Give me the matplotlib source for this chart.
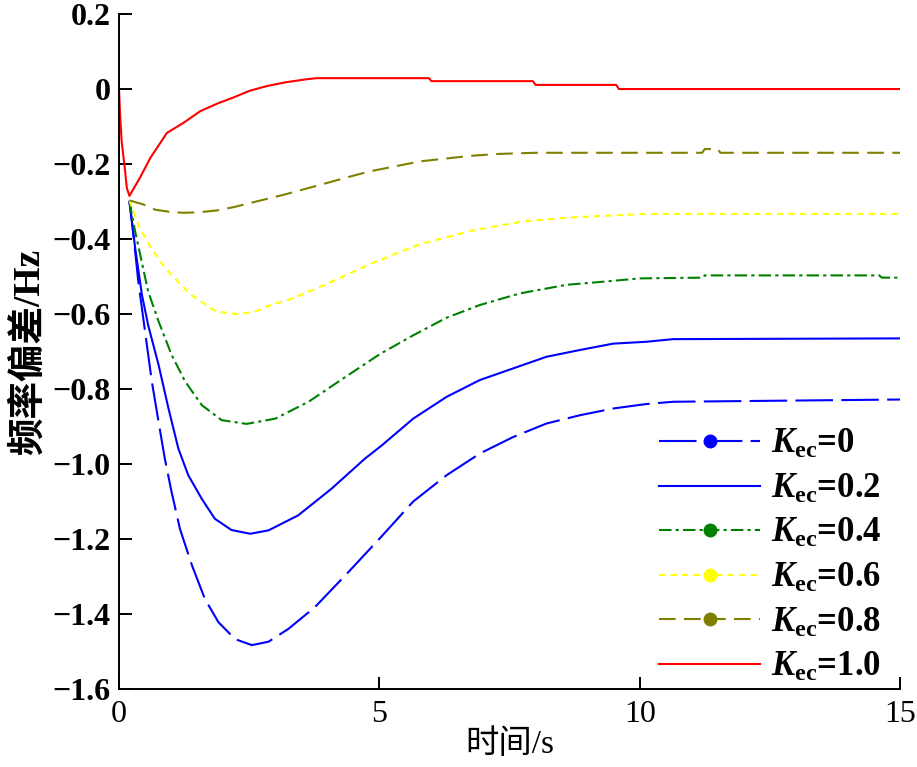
import matplotlib
matplotlib.use('Agg')
import matplotlib.pyplot as plt
from matplotlib.lines import Line2D

plt.rcParams['font.family'] = ['Liberation Serif', 'Noto Sans CJK SC']
plt.rcParams['mathtext.fontset'] = 'custom'
plt.rcParams['mathtext.rm'] = 'Liberation Serif:bold'
plt.rcParams['mathtext.it'] = 'Liberation Serif:italic:bold'
plt.rcParams['axes.unicode_minus'] = True

# Kec = 0
t0 = [0.2, 0.27, 0.37, 0.5, 0.63, 0.76, 0.88, 1.01, 1.17, 1.40, 1.65, 1.91, 2.23, 2.55, 2.87,
      3.25, 3.76, 4.4, 5.03, 5.65, 6.29, 6.93, 7.57, 8.21, 8.85, 9.49, 10.13, 10.64, 15]
y0 = [-0.3, -0.38, -0.513, -0.647, -0.78, -0.888, -0.986, -1.075, -1.173, -1.27, -1.36, -1.422,
      -1.467, -1.483, -1.474, -1.44, -1.382, -1.289, -1.195, -1.1, -1.03, -0.972, -0.928, -0.892,
      -0.87, -0.852, -0.84, -0.834, -0.828]
# Kec = 0.2
t2 = [0.2, 0.31, 0.44, 0.56, 0.76, 0.95, 1.14, 1.33, 1.59, 1.84, 2.16, 2.52, 2.87, 3.44, 4.08,
      4.72, 5.05, 5.65, 6.29, 6.93, 7.57, 8.21, 8.85, 9.49, 10.13, 10.64, 15]
y2 = [-0.3, -0.424, -0.549, -0.63, -0.736, -0.852, -0.959, -1.03, -1.093, -1.146, -1.176, -1.186,
      -1.177, -1.137, -1.066, -0.986, -0.95, -0.879, -0.821, -0.776, -0.745, -0.714, -0.696,
      -0.679, -0.674, -0.667, -0.665]
# Kec = 0.4
t4 = [0.2, 0.31, 0.56, 0.76, 1.01, 1.27, 1.59, 1.97, 2.45, 3.0, 3.64, 4.4, 5.02, 5.66, 6.29, 6.93,
      7.7, 8.6, 9.37, 10.0, 11.2, 11.25, 14.6, 14.65, 15]
y4 = [-0.3, -0.38, -0.54, -0.62, -0.709, -0.78, -0.843, -0.883, -0.893, -0.879, -0.834, -0.763,
      -0.706, -0.656, -0.61, -0.576, -0.545, -0.522, -0.513, -0.505, -0.503, -0.497, -0.497,
      -0.503, -0.503]
# Kec = 0.6
t6 = [0.2, 0.39, 0.6, 0.88, 1.37, 1.86, 2.25, 2.6, 2.84, 3.3, 3.82, 4.3, 4.8, 5.3, 5.78, 6.76,
      7.75, 8.73, 10.1, 15]
y6 = [-0.297, -0.369, -0.42, -0.477, -0.548, -0.593, -0.6, -0.595, -0.58, -0.56, -0.53, -0.5,
      -0.468, -0.44, -0.414, -0.378, -0.353, -0.342, -0.333, -0.333]
# Kec = 0.8
t8 = [0.2, 0.47, 0.7, 1.0, 1.23, 1.5, 1.87, 2.2, 2.52, 3.16, 3.8, 4.37, 4.8, 5.78, 6.76, 7.3, 8.0,
      11.2, 11.25, 11.5, 11.55, 15]
y8 = [-0.297, -0.308, -0.322, -0.328, -0.33, -0.329, -0.324, -0.315, -0.304, -0.282, -0.258,
      -0.236, -0.22, -0.193, -0.178, -0.173, -0.17, -0.17, -0.16, -0.16, -0.17, -0.17]
# Kec = 1.0
t10 = [0, 0.02, 0.05, 0.11, 0.15, 0.2, 0.4, 0.6, 0.92, 1.24, 1.56, 1.9, 2.19, 2.5, 2.84, 3.2, 3.6,
       3.8, 5.95, 6.0, 7.95, 8.0, 9.55, 9.6, 15]
y10 = [0, -0.068, -0.139, -0.21, -0.264, -0.285, -0.237, -0.184, -0.117, -0.09, -0.059, -0.038,
       -0.023, -0.005, 0.008, 0.018, 0.026, 0.029, 0.029, 0.021, 0.021, 0.011, 0.011, 0.0, 0.0]

labels = ['0', '0.2', '0.4', '0.6', '0.8', '1.0']
colors = ['#0000ff', '#0000ff', '#008000', '#ffff00', '#808000', '#ff0000']
dashes = [(18, 4), None, (6, 2, 1.5, 2), (3, 2.5), (8, 4), None]
has_marker = [True, False, True, True, True, False]

fig = plt.figure(figsize=(9.17, 7.67), dpi=100)
ax = fig.add_axes([0.1298, 0.1017, 0.8517, 0.88])

series = [(t0, y0), (t2, y2), (t4, y4), (t6, y6), (t8, y8), (t10, y10)]
handles = []
for (t, y), c, d, m, lab in zip(series, colors, dashes, has_marker, labels):
    kw = dict(color=c, lw=1.5)
    if d is not None:
        kw['dashes'] = d
    ax.plot(t, y, **kw)
    h = Line2D([], [], marker='o' if m else None, markersize=9, markerfacecolor=c,
               markeredgecolor=c, **kw)
    handles.append(h)

ax.set_xlim(0, 15)
ax.set_ylim(-1.6, 0.2)
ax.set_xticks([0, 5, 10, 15])
ax.set_yticks([0.2, 0, -0.2, -0.4, -0.6, -0.8, -1.0, -1.2, -1.4, -1.6])
ax.set_yticklabels(['0.2', '0', '\u22120.2', '\u22120.4', '\u22120.6', '\u22120.8', '\u22121.0',
                    '\u22121.2', '\u22121.4', '\u22121.6'], fontweight='bold')
ax.tick_params(direction='in', length=9, width=1.4, labelsize=23)
ax.tick_params(axis='x', pad=8)
ax.tick_params(axis='y', pad=6)
for s in ['top', 'right']:
    ax.spines[s].set_visible(False)
for s in ['left', 'bottom']:
    ax.spines[s].set_linewidth(1.4)

ax.set_xlabel('时间/s', fontsize=24, labelpad=0)
ax.set_ylabel('频率偏差/Hz', fontsize=27, fontweight='bold', labelpad=4)

leg = ax.legend(handles, [r'$K_{\mathrm{ec}}$=' + l for l in labels], loc='lower left',
                bbox_to_anchor=(0.652, -0.039), frameon=False, numpoints=1,
                handlelength=2.9, handletextpad=0.3, labelspacing=0.33,
                prop={'size': 25, 'weight': 'bold', 'family': 'Liberation Serif'})

fig.savefig('out.png', dpi=100)
